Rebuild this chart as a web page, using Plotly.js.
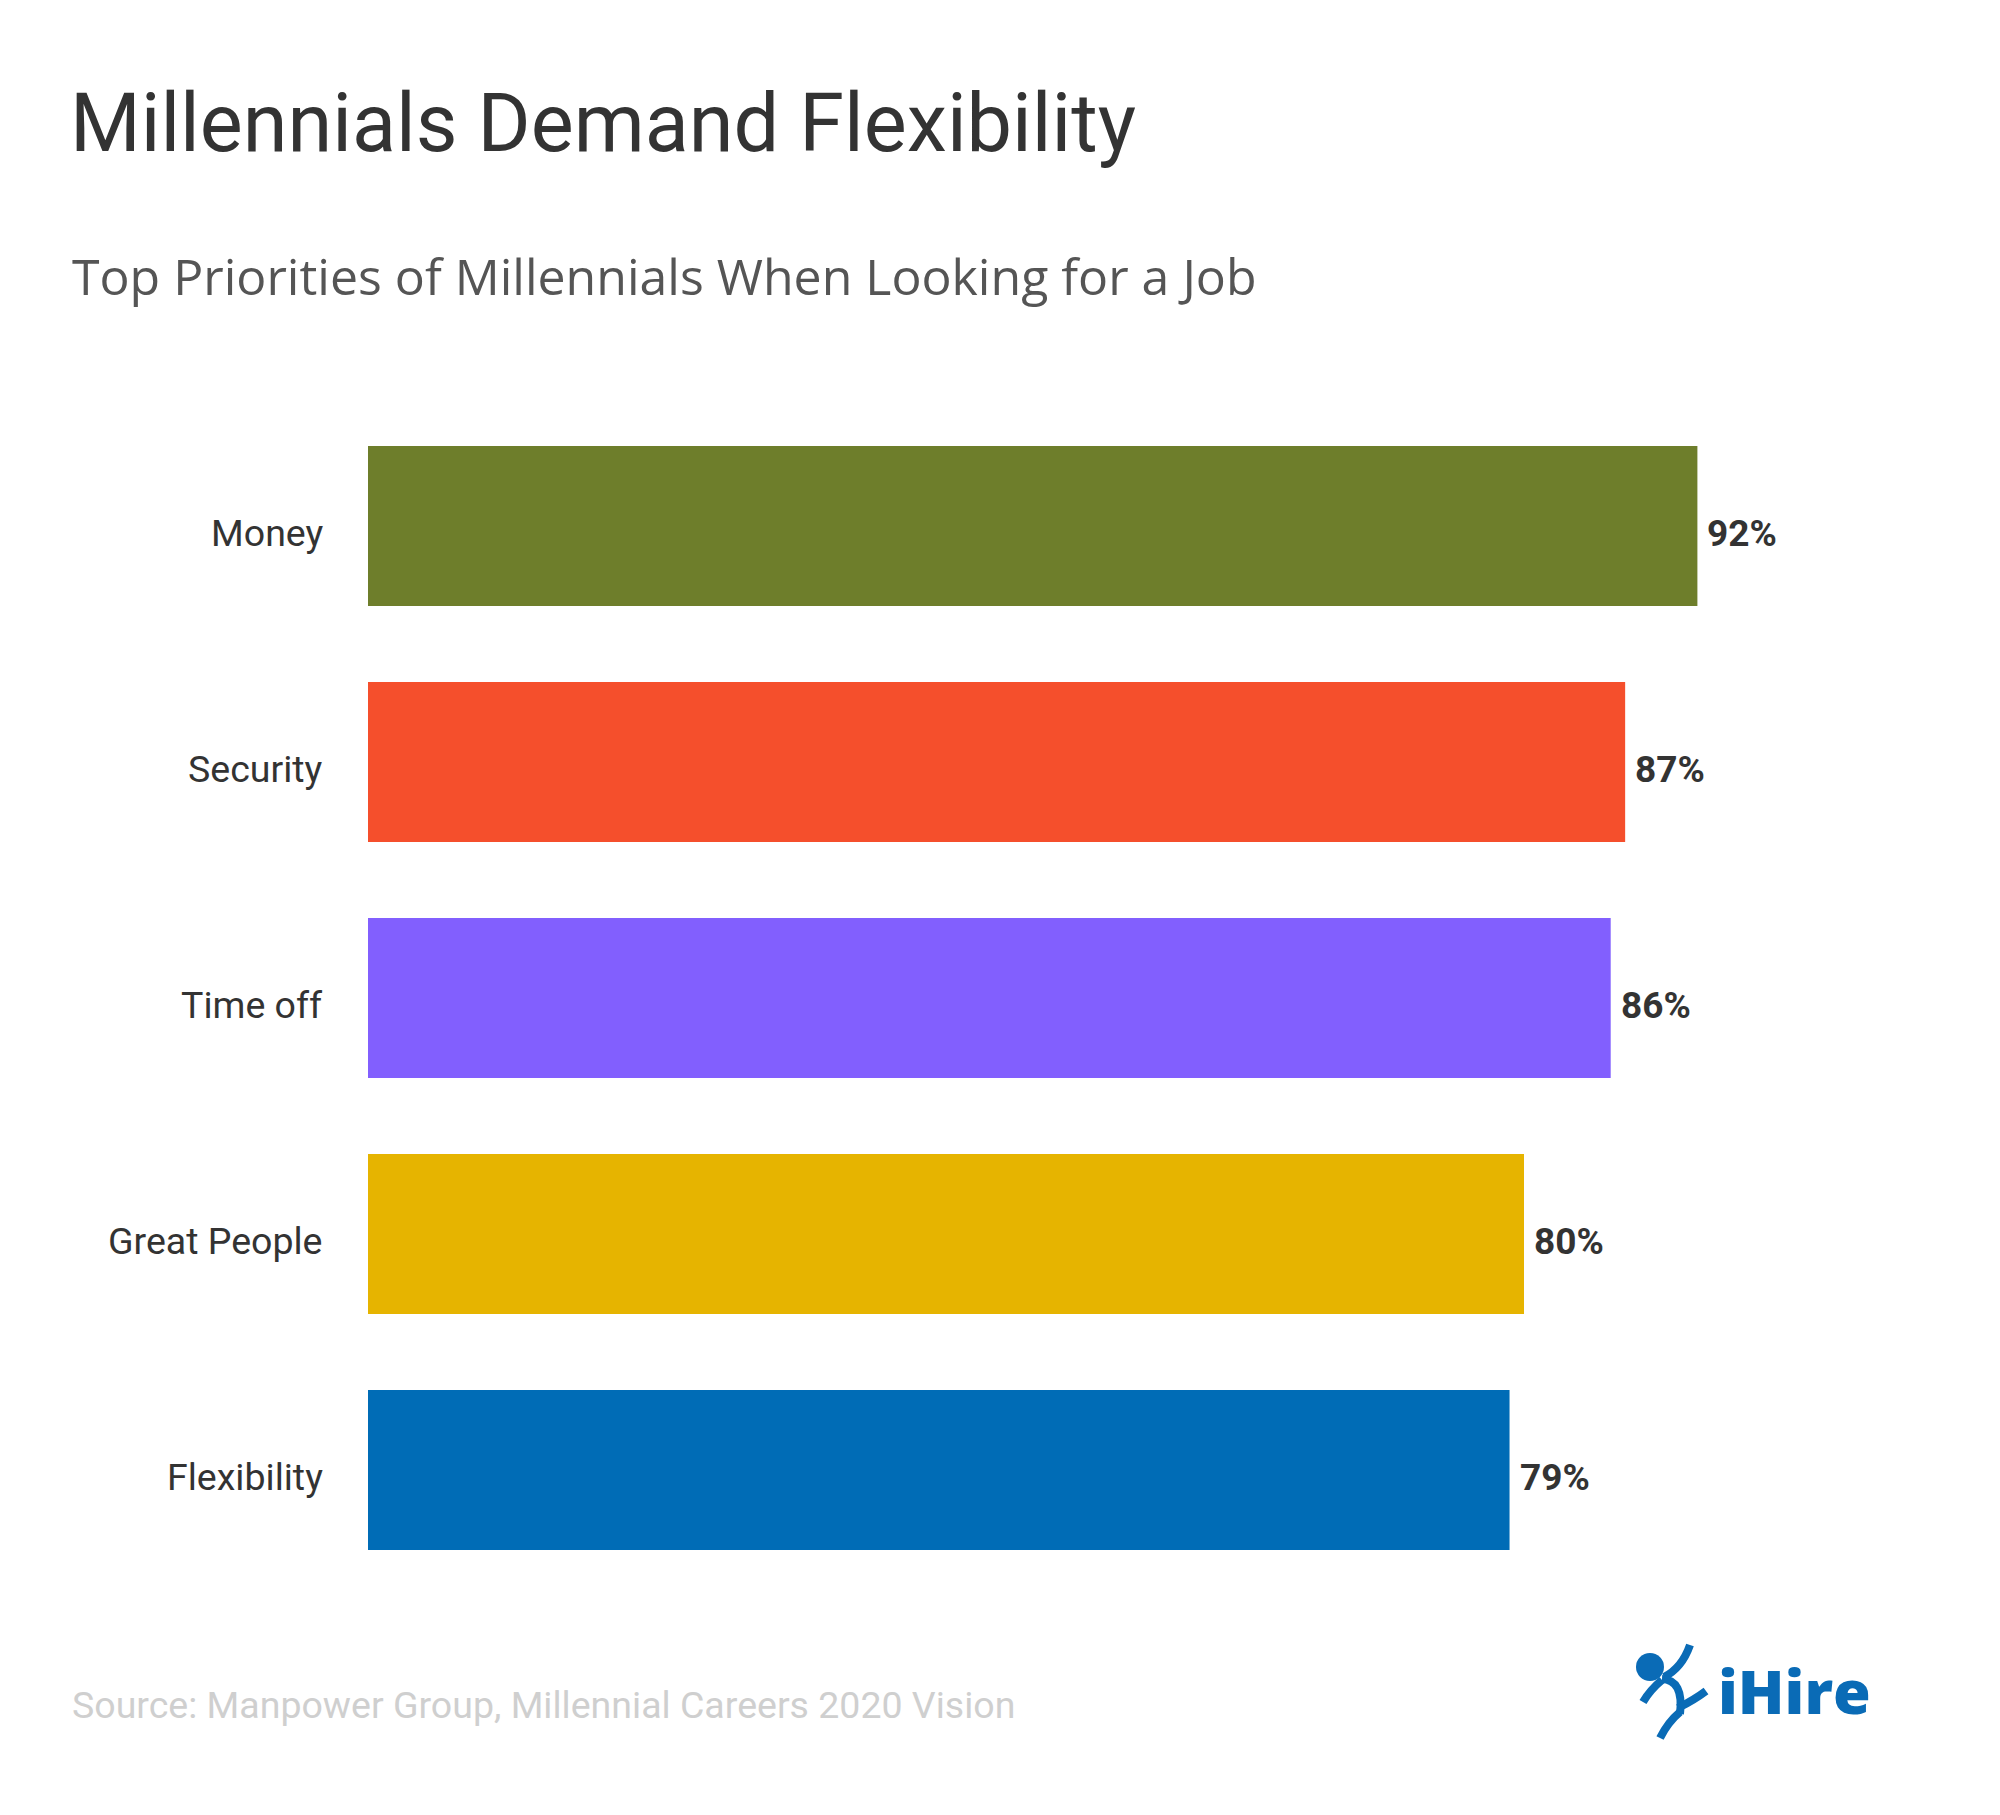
<!DOCTYPE html>
<html>
<head>
<meta charset="utf-8">
<script src="https://cdn.plot.ly/plotly-3.0.1.min.js"></script>
<style>
html,body{margin:0;padding:0;background:#fff;}
#chart{width:2000px;height:1815px;}
</style>
</head>
<body>
<div id="chart"></div>
<script>
// ---- data ----
const categories = ["Money", "Security", "Time off", "Great People", "Flexibility"];
const values = [92, 87, 86, 80, 79];
const valueLabels = ["92%", "87%", "86%", "80%", "79%"];
const barColors = ["#6e7e2b", "#f54f2c", "#825ffe", "#e6b400", "#006cb6"];

const titleText = "Millennials Demand Flexibility";
const subtitleText = "Top Priorities of Millennials When Looking for a Job";
const sourceText = "Source: Manpower Group, Millennial Careers 2020 Vision";

// ---- layout geometry (pixels) ----
const W = 2000, H = 1815;
const M = {l: 368, r: 187, t: 408, b: 227};
const PW = W - M.l - M.r, PH = H - M.t - M.b;
const px = (X) => (X - M.l) / PW;
const py = (Y) => (H - M.b - Y) / PH;
const pt = (X, Y) => px(X).toFixed(5) + "," + py(Y).toFixed(5);

const trace = {
  type: "bar",
  orientation: "h",
  x: values,
  y: categories,
  marker: {color: barColors, line: {width: 0}},
  hoverinfo: "skip"
};

// value labels and category labels, built from the data arrays
const valueAnnotations = values.map((v, i) => ({
  x: v, y: categories[i], xref: "x", yref: "y",
  text: valueLabels[i], showarrow: false,
  xanchor: "left", yanchor: "middle", xshift: 8, yshift: -7,
  font: {family: "Roboto", size: 37, color: "#333333", weight: "bold"}
}));
const categoryAnnotations = categories.map((c) => ({
  x: 0, y: c, xref: "paper", yref: "y",
  text: c, showarrow: false,
  xanchor: "right", yanchor: "middle", xshift: -43, yshift: -7,
  font: {family: "Roboto", size: 37.5, color: "#333333"}
}));

const logoBlue = "#0a6bb6";
const logoLine = {color: logoBlue, width: 8};
const shapes = [
  {type: "circle", xref: "paper", yref: "paper",
   x0: px(1636), x1: px(1664), y0: py(1681), y1: py(1653),
   fillcolor: logoBlue, line: {width: 0}},
  {type: "path", xref: "paper", yref: "paper", line: logoLine,
   path: "M" + pt(1664, 1677) + " Q" + pt(1682, 1668) + " " + pt(1690, 1645)},
  {type: "path", xref: "paper", yref: "paper", line: logoLine,
   path: "M" + pt(1662, 1680) + " Q" + pt(1650, 1690) + " " + pt(1643, 1702)},
  {type: "path", xref: "paper", yref: "paper", line: logoLine,
   path: "M" + pt(1662, 1679) + " Q" + pt(1684, 1680) + " " + pt(1680, 1714)},
  {type: "path", xref: "paper", yref: "paper", line: logoLine,
   path: "M" + pt(1680, 1712) + " Q" + pt(1668, 1722) + " " + pt(1660, 1738)},
  {type: "path", xref: "paper", yref: "paper", line: logoLine,
   path: "M" + pt(1678, 1708) + " Q" + pt(1694, 1700) + " " + pt(1706, 1691)}
];

const layout = {
  width: W, height: H,
  margin: M,
  paper_bgcolor: "#ffffff",
  plot_bgcolor: "#ffffff",
  showlegend: false,
  bargap: 0.322,
  title: {
    text: titleText,
    xref: "container", yref: "container",
    x: 70 / W, xanchor: "left",
    y: 1 - 123 / H, yanchor: "middle",
    font: {family: "Roboto", size: 81, color: "#333333"}
  },
  xaxis: {
    range: [0, 100],
    visible: false,
    fixedrange: true
  },
  yaxis: {
    type: "category",
    autorange: "reversed",
    showgrid: false, zeroline: false, showline: false,
    ticks: "",
    showticklabels: false,
    fixedrange: true
  },
  annotations: [
    {text: subtitleText, xref: "paper", yref: "paper",
     x: px(70), y: py(276), xanchor: "left", yanchor: "middle", showarrow: false,
     font: {family: "Open Sans", size: 50, color: "#555555"}},
    {text: sourceText, xref: "paper", yref: "paper",
     x: px(70), y: py(1705), xanchor: "left", yanchor: "middle", showarrow: false,
     font: {family: "Roboto", size: 37.5, color: "#cfcfcf"}},
    {text: "iHire", xref: "paper", yref: "paper",
     x: px(1716), y: py(1691), xanchor: "left", yanchor: "middle", showarrow: false,
     font: {family: "Open Sans", size: 61, color: logoBlue, weight: 800}}
  ].concat(valueAnnotations, categoryAnnotations),
  shapes: shapes
};

Plotly.newPlot("chart", [trace], layout, {displayModeBar: false, staticPlot: true});
</script>
</body>
</html>
